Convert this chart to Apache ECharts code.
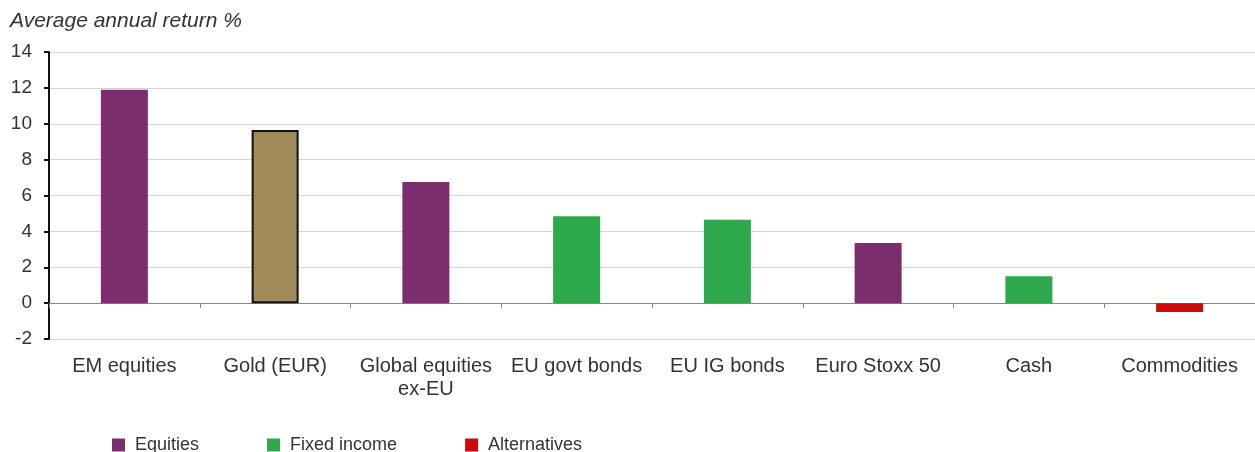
<!DOCTYPE html>
<html>
<head>
<meta charset="utf-8">
<script src="https://cdn.jsdelivr.net/npm/echarts@6/dist/echarts.min.js"></script>
<style>
  html, body { margin: 0; padding: 0; background: #fff; }
  #main { width: 1255px; height: 452px; }
</style>
</head>
<body>
<div id="main"></div>
<script>
var categories = ['EM equities', 'Gold (EUR)', 'Global equities\nex-EU', 'EU govt bonds',
  'EU IG bonds', 'Euro Stoxx 50', 'Cash', 'Commodities'];
var returns = [11.9, 9.65, 6.75, 4.85, 4.65, 3.35, 1.5, -0.5];
var groups = ['Equities', 'Gold', 'Equities', 'Fixed income', 'Fixed income', 'Equities', 'Fixed income', 'Alternatives'];
var yTicks = [-2, 0, 2, 4, 6, 8, 10, 12, 14];

var colors = {
  'Equities': '#7b2d6e',
  'Fixed income': '#2da84a',
  'Alternatives': '#cc0a0a',
  'Gold': '#a08a5a'
};

var dom = document.getElementById('main');
var myChart = echarts.init(dom, null, { renderer: 'canvas' });

function groupData(g) {
  return returns.map(function (v, i) { return groups[i] === g ? v : '-'; });
}

var seriesList = ['Equities', 'Fixed income', 'Alternatives', 'Gold'].map(function (g) {
  return {
    name: g,
    type: 'bar',
    stack: 'all',
    barWidth: 47,
    data: groupData(g),
    itemStyle: {
      color: colors[g],
      borderColor: g === 'Gold' ? '#111' : colors[g],
      borderWidth: g === 'Gold' ? 2 : 0
    }
  };
});

var option = {
  animation: false,
  textStyle: { fontFamily: 'Liberation Sans, Arial, sans-serif' },
  title: {
    text: 'Average annual return %',
    left: 10,
    top: 11,
    padding: 0,
    textStyle: { fontSize: 21, fontStyle: 'italic', fontWeight: 'normal', color: '#333' }
  },
  legend: {
    data: ['Equities', 'Fixed income', 'Alternatives'],
    left: 112,
    top: 436,
    padding: 0,
    itemWidth: 13,
    itemHeight: 13,
    itemGap: 68,
    icon: 'rect',
    textStyle: { fontSize: 18, color: '#333', padding: [0, 0, 0, 5] }
  },
  grid: { left: 49, right: 0, top: 52, bottom: 113 },
  xAxis: {
    type: 'category',
    data: categories,
    axisLine: { onZero: true, lineStyle: { color: '#888', width: 1 } },
    axisTick: { show: true, length: 5, lineStyle: { color: '#888' } },
    axisLabel: { margin: 16, fontSize: 20, color: '#333', lineHeight: 23, interval: 0 }
  },
  yAxis: {
    type: 'value',
    min: yTicks[0],
    max: yTicks[yTicks.length - 1],
    interval: 2,
    axisLine: { show: true, lineStyle: { color: '#111', width: 2 } },
    axisTick: { show: true, length: 5, lineStyle: { color: '#111', width: 2 } },
    axisLabel: { fontSize: 19, color: '#333', margin: 17 },
    splitLine: { lineStyle: { color: '#d4d4d4', width: 1 } }
  },
  series: seriesList
};

myChart.setOption(option);
window.addEventListener('resize', myChart.resize);
</script>
</body>
</html>
